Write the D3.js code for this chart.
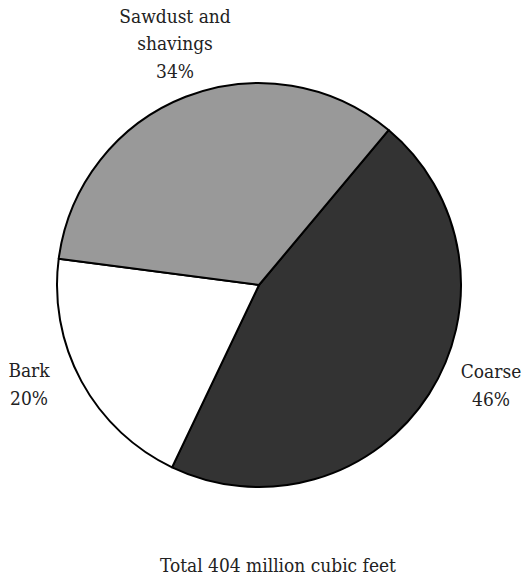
<!DOCTYPE html>
<html><head><meta charset="utf-8">
<script src="https://cdn.jsdelivr.net/npm/d3@7"></script>
<style>body{margin:0;background:#fff}svg{display:block}text{font-family:"DejaVu Serif Condensed","DejaVu Serif",serif;font-stretch:condensed}</style>
</head><body>
<svg id="c" width="526" height="578"></svg>
<script>
const categories = ["Coarse", "Bark", "Sawdust and shavings"];
const labelLines = [["Coarse"], ["Bark"], ["Sawdust and", "shavings"]];
const values = [46, 20, 34];
const colors = ["#333333", "#ffffff", "#999999"];
const total = "Total 404 million cubic feet";

const svg = d3.select("#c");
const cx = 259, cy = 285, r = 202;
const start = 39.9 * Math.PI / 180;
const pie = d3.pie().sort(null).startAngle(start).endAngle(start + 2 * Math.PI);
const arcs = pie(values);
const arc = d3.arc().innerRadius(0).outerRadius(r);
const g = svg.append("g").attr("transform", `translate(${cx},${cy})`);
g.selectAll("path").data(arcs).join("path")
  .attr("d", arc)
  .attr("fill", (d, i) => colors[i])
  .attr("stroke", "#000").attr("stroke-width", 2).attr("stroke-linejoin", "round");

// fit font size so the total line matches the reference width
const probe = svg.append("text").attr("font-size", 20).text(total);
const w = probe.node().getComputedTextLength();
probe.remove();
const fs = 20 * 236 / w;

const labelPos = [[491, 378], [29, 377], [175, 22.5]];
const lh = 27.8;
labelLines.forEach((lines, i) => {
  const t = svg.append("text").attr("text-anchor", "middle")
    .attr("font-size", fs).attr("fill", "#222");
  const all = lines.concat([values[i] + "%"]);
  all.forEach((s, j) => {
    t.append("tspan").attr("x", labelPos[i][0]).attr("y", labelPos[i][1] + j * lh).text(s);
  });
});
svg.append("text").attr("x", 278).attr("y", 572).attr("text-anchor", "middle")
  .attr("font-size", fs).attr("fill", "#222").text(total);
</script>
</body></html>
